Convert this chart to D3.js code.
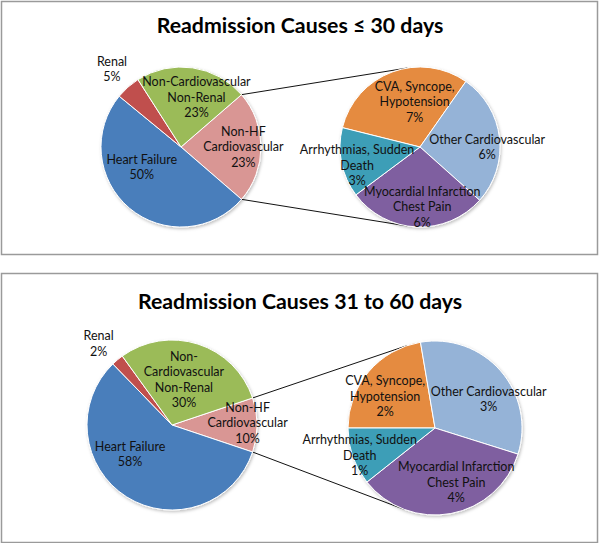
<!DOCTYPE html>
<html><head><meta charset="utf-8">
<script src="https://cdn.jsdelivr.net/npm/d3@7/dist/d3.min.js"></script>
<style>body{margin:0;background:#fff}svg{display:block}</style>
</head><body>
<script>
// ---------- data ----------
const titles = ["Readmission Causes \u2264 30 days", "Readmission Causes 31 to 60 days"];
const mainCategories = ["Non-HF Cardiovascular", "Heart Failure", "Renal", "Non-Cardiovascular Non-Renal"];
const main30 = [22.7, 49.6, 5.0, 22.7];
const main60 = [10.3, 57.6, 2.3, 29.8];
const mainLines30 = [["Non-HF", "Cardiovascular"], ["Heart Failure"], ["Renal"], ["Non-Cardiovascular", "Non-Renal"]];
const mainLines60 = [["Non-HF", "Cardiovascular"], ["Heart Failure"], ["Renal"], ["Non-", "Cardiovascular", "Non-Renal"]];
const subCategories = ["CVA, Syncope, Hypotension", "Other Cardiovascular", "Myocardial Infarction Chest Pain", "Arrhythmias, Sudden Death"];
const sub30 = [7.0, 6.1, 6.4, 3.2];
const sub60 = [2.3, 3.35, 3.55, 1.1];
const subLines = [["CVA, Syncope,", "Hypotension"], ["Other Cardiovascular"], ["Myocardial Infarction", "Chest Pain"], ["Arrhythmias, Sudden", "Death"]];

// ---------- styles / layout ----------
const mainColors = ["#D99694", "#4A7EBB", "#C0504D", "#9BBB59"];
const subColors = ["#E58B3F", "#95B3D7", "#7F5FA0", "#3E9EB7"];
const W = 600, H = 543;
const panels = [
  { y0: 1, y1: 254, titleY: 33, main: main30, mainLines: mainLines30, sub: sub30,
    mc: [181, 147], mr: 80, sc: [420, 147], sr: 80, subStart: -76,
    mainLab: [[0.78, 0], [0.55, 23], [1.3, 0], [0.65, 9]],
    subLab: [[0.57, 13.8], [0.84, 6.6], [0.75, -4.6], [0.82, -5]] },
  { y0: 273, y1: 542, titleY: 309, main: main60, mainLines: mainLines60, sub: sub60,
    mc: [172, 425], mr: 85, sc: [435, 428], sr: 87, subStart: -90,
    mainLab: [[0.89, -1.5], [0.6, 23], [1.29, -2], [0.55, -3]],
    subLab: [[0.68, -7.6], [0.70, 12.9], [0.67, -10.8], [0.92, -0.6]] }
];
const FONT = "Lato, 'Open Sans', sans-serif";
const LH = 15.5;

const svg = d3.select("body").append("svg").attr("width", W).attr("height", H);
const defs = svg.append("defs");
const f = defs.append("filter").attr("id", "sh").attr("x", "-20%").attr("y", "-20%").attr("width", "140%").attr("height", "140%");
f.append("feDropShadow").attr("dx", 1).attr("dy", 1.5).attr("stdDeviation", 1.5).attr("flood-color", "#000").attr("flood-opacity", 0.25);

const rad = d => d * Math.PI / 180;

function labelBlock(g, x, y, lines) {
  const n = lines.length;
  const t = g.append("text").attr("font-family", FONT).attr("font-size", 12.5).attr("fill", "#111")
    .attr("text-anchor", "middle");
  lines.forEach((s, i) => {
    t.append("tspan").attr("x", x).attr("y", y + (i - (n - 1) / 2) * LH).attr("dy", "0.35em").text(s);
  });
}

function tangent(P, C, R, upper) {
  const dx = P[0] - C[0], dy = P[1] - C[1];
  const d = Math.hypot(dx, dy);
  const phi = Math.atan2(dy, dx), b = Math.acos(R / d);
  const c1 = [C[0] + R * Math.cos(phi + b), C[1] + R * Math.sin(phi + b)];
  const c2 = [C[0] + R * Math.cos(phi - b), C[1] + R * Math.sin(phi - b)];
  return upper ? (c1[1] < c2[1] ? c1 : c2) : (c1[1] > c2[1] ? c1 : c2);
}

panels.forEach((p, pi) => {
  const g = svg.append("g");
  g.append("rect").attr("x", 1.5).attr("y", p.y0 + 0.5).attr("width", W - 4).attr("height", p.y1 - p.y0)
    .attr("fill", "#fff").attr("stroke", "#9a9a9a").attr("stroke-width", 1.5);
  g.append("text").attr("x", W / 2).attr("y", p.titleY).attr("text-anchor", "middle")
    .attr("font-family", FONT).attr("font-weight", "bold").attr("font-size", 21.3).attr("fill", "#000")
    .text(titles[pi]);

  const total = d3.sum(p.main);
  const half = p.main[0] / total * Math.PI;
  const s0 = Math.PI / 2 - half;
  const mainArcs = d3.pie().sort(null).startAngle(s0).endAngle(s0 + 2 * Math.PI)(p.main);
  const s1 = rad(p.subStart);
  const subArcs = d3.pie().sort(null).startAngle(s1).endAngle(s1 + 2 * Math.PI)(p.sub);

  // connector lines (behind pies)
  const a0 = mainArcs[0].startAngle, a1 = mainArcs[0].endAngle;
  const Pu = [p.mc[0] + p.mr * Math.sin(a0), p.mc[1] - p.mr * Math.cos(a0)];
  const Pl = [p.mc[0] + p.mr * Math.sin(a1), p.mc[1] - p.mr * Math.cos(a1)];
  const Tu = tangent(Pu, p.sc, p.sr, true), Tl = tangent(Pl, p.sc, p.sr, false);
  const line = d3.line();
  g.append("path").attr("d", line([Pu, Tu])).attr("stroke", "#111").attr("stroke-width", 1).attr("fill", "none");
  g.append("path").attr("d", line([Pl, Tl])).attr("stroke", "#111").attr("stroke-width", 1).attr("fill", "none");

  const arcM = d3.arc().innerRadius(0).outerRadius(p.mr);
  const gm = g.append("g").attr("transform", `translate(${p.mc})`).attr("filter", "url(#sh)");
  gm.selectAll("path").data(mainArcs).join("path").attr("d", arcM)
    .attr("fill", (d, i) => mainColors[i]).attr("stroke", "#fff").attr("stroke-width", 1);
  const arcS = d3.arc().innerRadius(0).outerRadius(p.sr);
  const gs = g.append("g").attr("transform", `translate(${p.sc})`).attr("filter", "url(#sh)");
  gs.selectAll("path").data(subArcs).join("path").attr("d", arcS)
    .attr("fill", (d, i) => subColors[i]).attr("stroke", "#fff").attr("stroke-width", 1);

  mainArcs.forEach((d, i) => {
    const [k, dl] = p.mainLab[i];
    const a = (d.startAngle + d.endAngle) / 2 + rad(dl);
    const x = p.mc[0] + k * p.mr * Math.sin(a), y = p.mc[1] - k * p.mr * Math.cos(a);
    labelBlock(g, x, y, p.mainLines[i].concat([Math.round(d.data) + "%"]));
  });
  subArcs.forEach((d, i) => {
    const [k, dl] = p.subLab[i];
    const a = (d.startAngle + d.endAngle) / 2 + rad(dl);
    const x = p.sc[0] + k * p.sr * Math.sin(a), y = p.sc[1] - k * p.sr * Math.cos(a);
    labelBlock(g, x, y, subLines[i].concat([Math.round(d.data) + "%"]));
  });
});
</script>
</body></html>
